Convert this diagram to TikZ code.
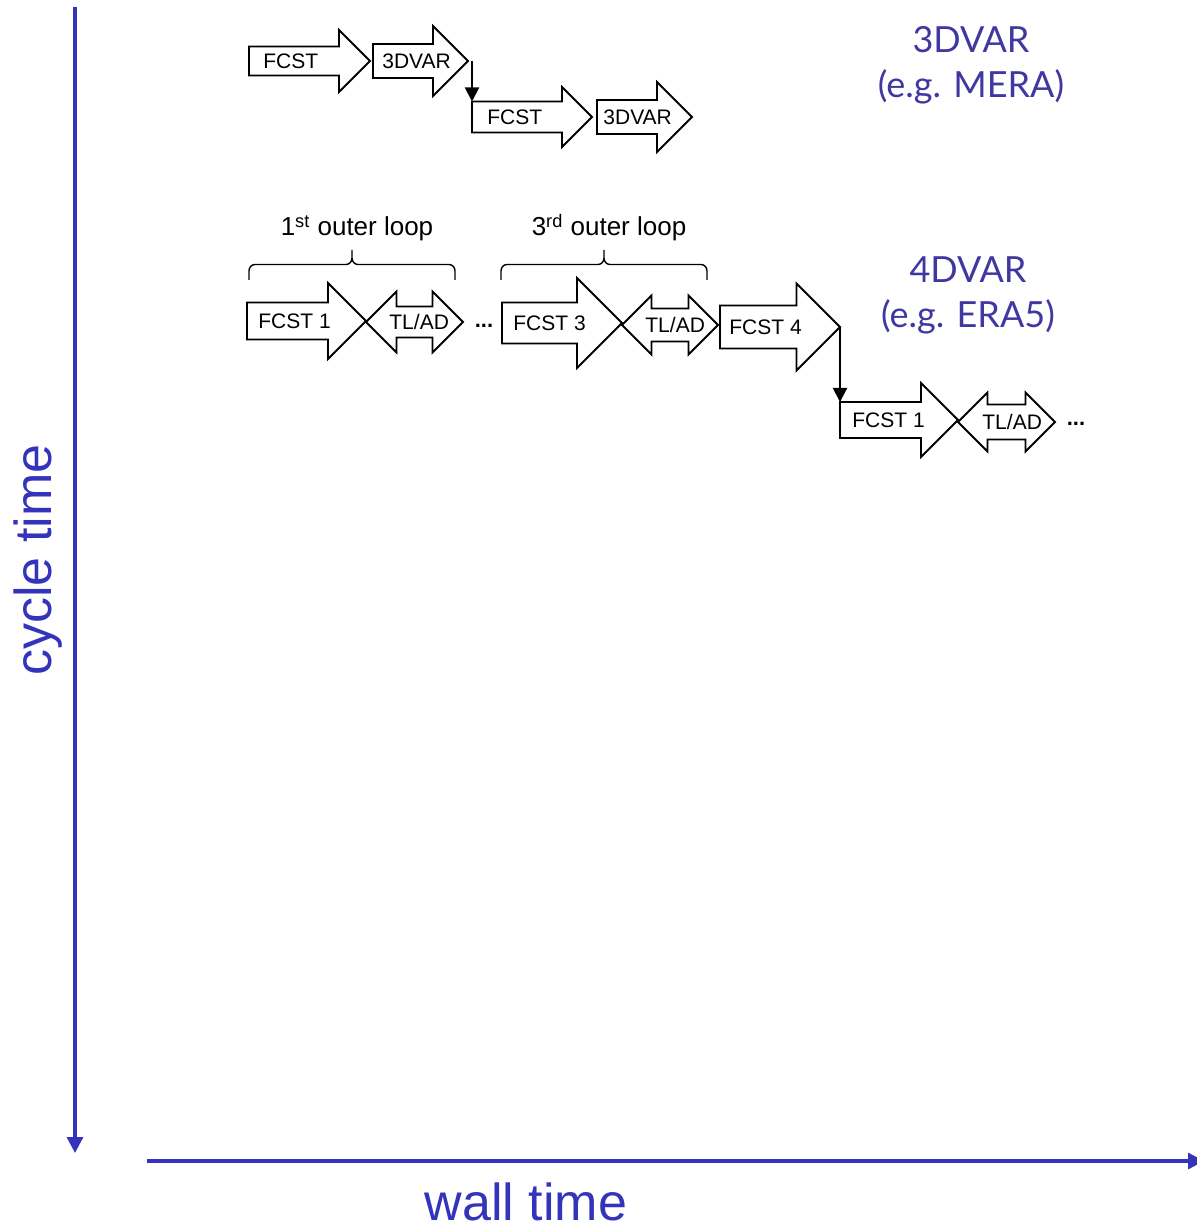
\documentclass[tikz,border=0pt]{standalone}
\usepackage{fontspec}
\setmainfont{Liberation Sans}
\newfontfamily\schemefont{Lato}
\usetikzlibrary{
  arrows.meta,
  calc
}
\definecolor{axisblue}{RGB}{51,51,187}
\definecolor{schemeblue}{RGB}{64,56,160}
\tikzset{
  stage/.style={
    draw,
    fill=white,
    line width=0.9pt,
  },
  stagetext/.style={
    font=\fontsize{10.5}{12}\selectfont,
    inner sep=0pt,
    anchor=west,
  },
  gapdots/.style={
    font=\fontsize{11}{12}\selectfont\bfseries,
    inner sep=0pt,
  },
  flow/.style={
    -{Triangle[length=7pt,width=7pt]},
    line width=1pt,
  },
  axis/.style={
    axisblue,
    line width=1.6pt,
    -{Triangle[length=8pt,width=8pt]},
  },
  axislabel/.style={
    axisblue,
    font=\fontsize{26}{30}\selectfont,
    inner sep=0pt,
  },
  schemetext/.style={
    schemeblue,
    font=\schemefont\fontsize{18}{22}\selectfont,
    inner sep=0pt,
    anchor=base,
  },
  loopline/.style={
    line width=0.7pt,
  },
  looptext/.style={
    font=\fontsize{13}{15}\selectfont,
    inner sep=0pt,
    anchor=base,
  },
}
% block arrow: name, tail x, centre y, tip x, half shaft, half head, label, text inset
\newcommand{\fwdarrow}[8]{%
  \draw[stage] (#2,#3-#5) -- (#4-#6,#3-#5) -- (#4-#6,#3-#6) -- (#4,#3)
    -- (#4-#6,#3+#6) -- (#4-#6,#3+#5) -- (#2,#3+#5) -- cycle;
  \coordinate (#1-tip) at (#4,#3);
  \coordinate (#1-tl) at (#2,#3-#5);
  \node[stagetext] (#1) at (#2+#8,#3) {#7};
}
% two-headed arrow: name, left tip x, centre y, right tip x, half shaft, half head, label, text inset
\newcommand{\tladarrow}[8]{%
  \draw[stage] (#2,#3) -- (#2+#6,#3-#6) -- (#2+#6,#3-#5) -- (#4-#6,#3-#5)
    -- (#4-#6,#3-#6) -- (#4,#3) -- (#4-#6,#3+#6) -- (#4-#6,#3+#5)
    -- (#2+#6,#3+#5) -- (#2+#6,#3+#6) -- cycle;
  \node[stagetext] (#1) at (#2+#8,#3) {#7};
}
% square-ish curly brace: left x, right x, foot y
\newcommand{\loopbrace}[3]{%
  \pgfmathsetmacro\bracemid{(#1+#2)/2}
  \draw[loopline] (#1,#3) -- (#1,#3-9) to[out=90,in=180] (#1+6,#3-15.5)
    -- (\bracemid-6,#3-15.5) to[out=0,in=-90] (\bracemid,#3-22)
    -- (\bracemid,#3-30) -- (\bracemid,#3-22)
    to[out=-90,in=180] (\bracemid+6,#3-15.5) -- (#2-6,#3-15.5)
    to[out=0,in=90] (#2,#3-9) -- (#2,#3);
}

\begin{document}
\begin{tikzpicture}[x=0.5pt,y=-0.5pt]
  \useasboundingbox (0,0) rectangle (1196,1224);

  % axes
  \coordinate (cycle-start) at (75,7);
  \coordinate (cycle-end) at (75,1153);
  \coordinate (wall-start) at (147,1161);
  \coordinate (wall-end) at (1204,1161);
  \draw[axis] (cycle-start) -- (cycle-end);
  \draw[axis] (wall-start) -- (wall-end);
  \node[axislabel, rotate=90] (cycle) at (38,560) {cycle time};
  \node[axislabel] (wall) at (526,1202) {wall time};

  % 3DVAR cycling
  \fwdarrow{f1}{249}{61}{370}{14.5}{31}{FCST}{14}
  \fwdarrow{v1}{373}{61}{468}{17}{35}{3DVAR}{9}
  \fwdarrow{f2}{472}{117}{592}{15.5}{30}{FCST}{15}
  \fwdarrow{v2}{597}{117}{692}{17}{35}{3DVAR}{6}
  \draw[flow] (f2-tl |- v1-tip) -- (f2-tl);

  \node[schemetext] (var3) at (971,53) {3DVAR};
  \node[schemetext] (var3eg) at (971,98) {(e.g. MERA)};

  % 4DVAR cycling
  \fwdarrow{a1}{247}{321}{366}{18.5}{38}{FCST 1}{11}
  \tladarrow{t1}{366}{322}{463}{15.5}{30.5}{TL/AD}{23}
  \node[gapdots] (gap1) at (484,326) {...};
  \fwdarrow{a3}{502}{323}{622}{20.5}{45}{FCST 3}{11}
  \tladarrow{t3}{622}{325}{718}{16.5}{29.5}{TL/AD}{23}
  \fwdarrow{a4}{720}{327}{840}{21.5}{43.5}{FCST 4}{9}
  \fwdarrow{b1}{840}{420}{958}{18}{37}{FCST 1}{12}
  \tladarrow{tb}{958}{422}{1055}{17.5}{29.5}{TL/AD}{24}
  \node[gapdots] (gap2) at (1076,424) {...};
  \draw[flow] (a4-tip) -- (a4-tip |- b1-tl);

  \loopbrace{249}{455}{280}
  \loopbrace{501}{707}{280}
  \node[looptext] (loop1) at (357,236) {1\textsuperscript{st} outer loop};
  \node[looptext] (loop3) at (609,236) {3\textsuperscript{rd} outer loop};

  \node[schemetext] (var4) at (968,283) {4DVAR};
  \node[schemetext] (var4eg) at (968,328) {(e.g. ERA5)};
\end{tikzpicture}
\end{document}
